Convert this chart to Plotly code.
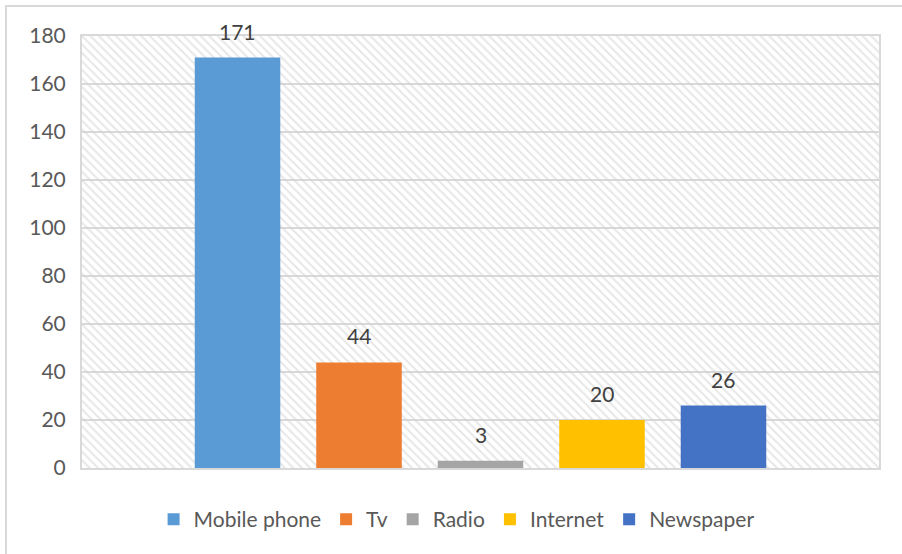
import plotly.graph_objects as go

categories = ["Mobile phone", "Tv", "Radio", "Internet", "Newspaper"]
values = [171, 44, 3, 20, 26]
colors = ["#5B9BD5", "#ED7D31", "#A5A5A5", "#FFC000", "#4472C4"]
y_ticks = [0, 20, 40, 60, 80, 100, 120, 140, 160, 180]

W, H = 902, 554
ML, MR, MT, MB = 82, 23, 36, 86
FONT = "Lato, 'Open Sans', sans-serif"

positions = list(range(len(categories)))
x_range = [-1.28, len(categories) - 1 + 1.28]

fig = go.Figure()

# hatched plot-area background
fig.add_trace(go.Bar(
    x=[(x_range[0] + x_range[1]) / 2], y=[y_ticks[-1]],
    width=[x_range[1] - x_range[0]],
    marker=dict(color="rgba(0,0,0,0)", line=dict(width=0),
                pattern=dict(shape="\\", fgcolor="#d0d0d0", bgcolor="rgba(0,0,0,0)",
                             size=6, solidity=0.35, fillmode="overlay")),
    showlegend=False, hoverinfo="skip",
))

for i, (cat, val, col) in enumerate(zip(categories, values, colors)):
    fig.add_trace(go.Bar(
        x=[positions[i]], y=[val], name=cat, width=[0.704],
        marker=dict(color=col, line=dict(width=0)),
    ))
    fig.add_annotation(x=positions[i], y=val, text=str(val), showarrow=False,
                       yanchor="bottom", yshift=12,
                       font=dict(family=FONT, size=21, color="#404040"))

fig.update_layout(
    width=W, height=H,
    margin=dict(l=ML, r=MR, t=MT, b=MB),
    paper_bgcolor="white", plot_bgcolor="white",
    barmode="overlay",
    font=dict(family=FONT, size=21, color="#595959"),
    legend=dict(orientation="h", x=0.47, xanchor="center", y=-0.072, yanchor="top",
                font=dict(family=FONT, size=21, color="#595959"),
                itemwidth=30, traceorder="normal"),
    xaxis=dict(range=x_range, showticklabels=False, showgrid=False, zeroline=False,
               showline=True, linecolor="#d9d9d9", linewidth=2, mirror=True, ticks=""),
    yaxis=dict(range=[0, 180], tickvals=y_ticks, showgrid=True, gridcolor="#d9d9d9",
               gridwidth=1.5, zeroline=False, showline=True, linecolor="#d9d9d9",
               linewidth=2, mirror=True, ticks="", ticklabelstandoff=10,
               tickfont=dict(family=FONT, size=21, color="#595959")),
)

pw = W - ML - MR
ph = H - MT - MB
fig.add_shape(type="rect", xref="paper", yref="paper",
              x0=(6 - ML) / pw, x1=(W + 10 - ML) / pw,
              y0=(H - (H + 10) - MB) / ph, y1=(H - 6 - MB) / ph,
              line=dict(color="#d9d9d9", width=2), layer="below")

fig.write_html("out.html")
